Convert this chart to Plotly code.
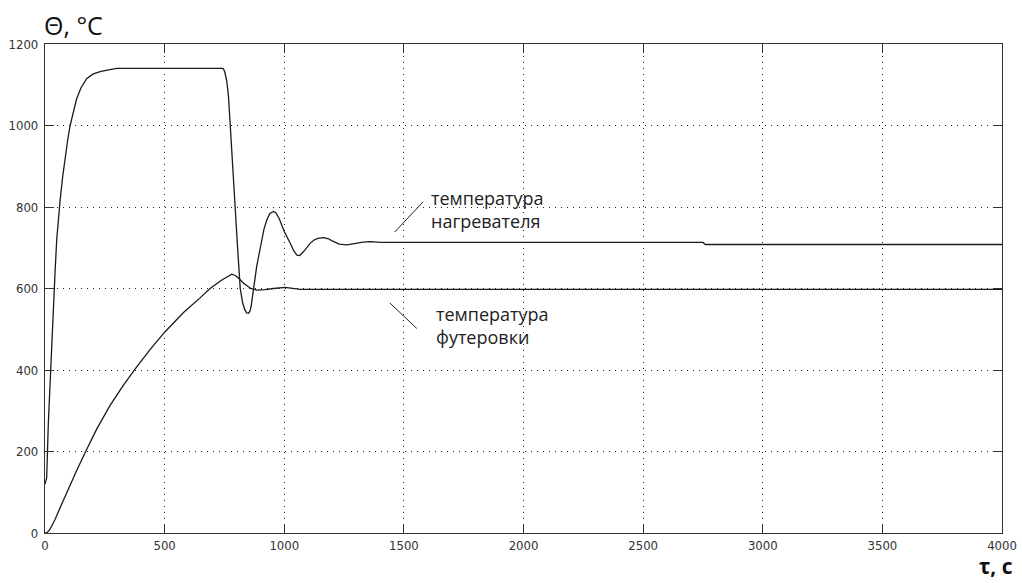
import plotly.graph_objects as go

# Heater temperature (t, value)
heater_t = [0, 7, 14, 21, 28, 35, 42, 49, 56, 63, 74, 84, 95, 105, 118, 132, 150, 174, 200, 230, 260, 300,
            740, 746, 752, 760, 767, 774, 785, 795, 805, 816, 826, 835, 843, 851, 857, 862, 872,
            885, 900, 915, 927, 940, 955, 965, 980, 1000, 1025, 1040, 1053, 1065, 1080, 1095,
            1110, 1125, 1140, 1165, 1185, 1200, 1215, 1230, 1262, 1300, 1330,
            1360, 1402, 2750, 2760, 4000]
heater_v = [120, 135, 270, 370, 460, 560, 640, 720, 775, 815, 875, 924, 965, 1000, 1035, 1065, 1092, 1115, 1126, 1132, 1136, 1140,
            1140, 1139, 1130, 1108, 1071, 997, 900, 801, 700, 600, 565, 548, 540, 539, 545, 558, 600,
            655, 700, 745, 768, 784, 789, 786, 770, 740, 711, 692, 682, 681, 690, 702,
            712, 719, 723, 725, 722, 717, 712, 709, 707, 711, 714,
            715, 713, 713, 708, 708]

# Lining temperature (t, value)
lining_t = [0, 7, 20, 42, 63, 91, 105, 132, 174, 216, 272, 328, 377, 439, 502,
            579, 648, 690, 739, 765, 781, 795, 810, 830, 860, 885, 920, 955, 1004, 1067, 1500, 4000]
lining_v = [0, 0, 8, 33, 62, 100, 118, 153, 205, 255, 313, 363, 403, 450, 494,
            541, 577, 600, 621, 631, 635, 632, 625, 613, 600, 596, 597, 600, 603, 598, 598, 598]

x_ticks = [0, 500, 1000, 1500, 2000, 2500, 3000, 3500, 4000]
y_ticks = [0, 200, 400, 600, 800, 1000, 1200]

label_heater = "температура<br>нагревателя"
label_lining = "температура<br>футеровки"

line_style = dict(color="#1a1a1a", width=1.3)

fig = go.Figure()
fig.add_trace(go.Scatter(x=heater_t, y=heater_v, mode="lines", line=line_style, showlegend=False))
fig.add_trace(go.Scatter(x=lining_t, y=lining_v, mode="lines", line=line_style, showlegend=False))

axis_common = dict(
    showline=True, linecolor="#333", linewidth=1.2, mirror="ticks",
    ticks="inside", ticklen=9, tickcolor="#333", tickwidth=1.2,
    showgrid=True, gridcolor="#222", gridwidth=1, griddash="1px,5px",
    zeroline=False, automargin=False,
    tickfont=dict(family="DejaVu Sans Condensed, DejaVu Sans", size=13, color="#333"),
)

fig.update_xaxes(range=[0, 4000], tickvals=x_ticks, **axis_common)
fig.update_yaxes(range=[0, 1200], tickvals=y_ticks, ticklabelstandoff=3, **axis_common)

fig.add_annotation(x=1581, y=813, ax=1456, ay=735, xref="x", yref="y", axref="x", ayref="y",
                   text="", showarrow=True, arrowhead=0, arrowwidth=1, arrowcolor="#222")
fig.add_annotation(x=1554, y=502, ax=1435, ay=568, xref="x", yref="y", axref="x", ayref="y",
                   text="", showarrow=True, arrowhead=0, arrowwidth=1, arrowcolor="#222")

text_font = dict(family="Open Sans", size=18, color="#222")
fig.add_annotation(x=1605, y=794, xref="x", yref="y", text=label_heater, showarrow=False,
                   xanchor="left", yanchor="middle", align="left", font=text_font)
fig.add_annotation(x=1625, y=510, xref="x", yref="y", text=label_lining, showarrow=False,
                   xanchor="left", yanchor="middle", align="left", font=text_font)

fig.update_layout(
    width=1022, height=583,
    margin=dict(l=45, r=20, t=44, b=50),
    paper_bgcolor="white", plot_bgcolor="white",
)
fig.add_annotation(xref="paper", yref="paper", x=(42 - 45) / 957, y=(533 - 25) / 489,
                   text="Θ, °C", showarrow=False, xanchor="left", yanchor="middle",
                   font=dict(family="Open Sans", size=25, color="#111"))
fig.add_annotation(xref="paper", yref="paper", x=(1015 - 45) / 957, y=(533 - 566) / 489,
                   text="<b>τ, c</b>", showarrow=False, xanchor="right", yanchor="middle",
                   font=dict(family="Open Sans", size=21, color="#111"))

fig.write_html("out.html")
